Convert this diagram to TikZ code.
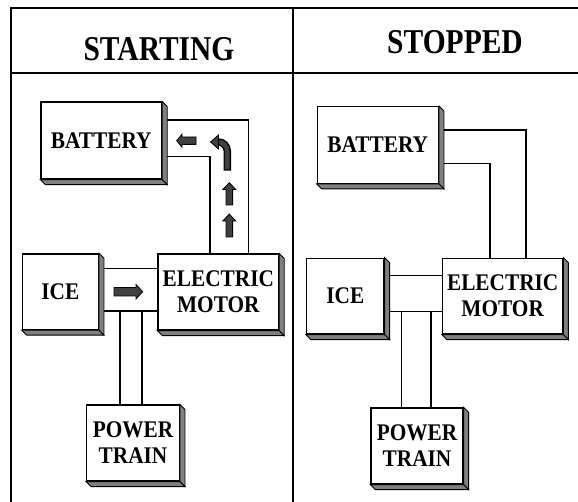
\documentclass[tikz,border=0pt]{standalone}
\usepackage{fontspec}
\setmainfont{Liberation Serif}
\definecolor{facegray}{RGB}{128,128,128}
\definecolor{arrowgray}{RGB}{64,64,64}
\tikzset{
  blk/.style={draw, fill=white, line width=1.3pt, inner sep=0pt, align=center,
    font=\fontsize{21.3}{26}\selectfont\bfseries},
  depthface/.style={draw, fill=facegray, line width=0.9pt, line join=miter},
  link/.style={line width=1.3pt},
  frame/.style={line width=1.5pt},
  flowarrow/.style={draw, fill=arrowgray, line width=0.8pt, line join=miter},
  headtxt/.style={font=\fontsize{29.5}{30}\selectfont\bfseries, inner sep=0pt, anchor=base},
}
% taller lettering, as in the drawing
\newcommand{\tall}[1]{\scalebox{1}[1.12]{#1}}
% gray side and bottom faces of a box
\newcommand{\boxdepth}[1]{%
  \filldraw[depthface] (#1.north east) -- ++(5,5) -- ([shift={(5,5)}]#1.south east) -- (#1.south east) -- cycle;
  \filldraw[depthface] (#1.south west) -- ++(5,5) -- ([shift={(5,5)}]#1.south east) -- (#1.south east) -- cycle;}
\begin{document}
\begin{tikzpicture}[x=1pt,y=-1pt]
  \useasboundingbox (0,0) rectangle (578,502);

  % table lines
  \draw[frame] (11,502) -- (11,8) -- (578,8);
  \draw[frame] (11,73) -- (578,73);
  \draw[frame] (293,8) -- (293,502);

  % Text Node
  \node[headtxt] (hStart) at (159,60.7) {\scalebox{1}[1.18]{STARTING}};
  % Text Node
  \node[headtxt] (hStop) at (455,53.3) {\scalebox{1}[1.18]{STOPPED}};

  %----- starting -----
  \node[blk, minimum width=120.5pt, minimum height=77pt] (batL) at (101.3,140.5) {\tall{BATTERY}};
  \node[blk, minimum width=120.5pt, minimum height=76pt] (motL) at (218.3,292) {\tall{ELECTRIC}\\\tall{MOTOR}};
  \node[blk, minimum width=76pt, minimum height=75.5pt] (iceL) at (60.3,291.7) {\tall{ICE}};
  \node[blk, minimum width=92.6pt, minimum height=76pt] (ptL) at (133,443) {\tall{POWER}\\\tall{TRAIN}};

  \draw[link] ([shift={(0,18.7)}]batL.north east) -| ([shift={(30,0)}]motL.north);
  \draw[link] ([shift={(0,55.3)}]batL.north east) -| ([shift={(-8.3,0)}]motL.north);
  \coordinate (iceLtop) at ([shift={(0,15.3)}]iceL.north east);
  \coordinate (iceLbot) at ([shift={(0,57.7)}]iceL.north east);
  \draw[link] (iceLtop) -- (iceLtop -| motL.west);
  \draw[link] (iceLbot) -- (iceLbot -| motL.west);
  \coordinate (ptLa) at ([shift={(-13,0)}]ptL.north);
  \coordinate (ptLb) at ([shift={(9,0)}]ptL.north);
  \draw[link] (ptLa |- iceLbot) -- (ptLa);
  \draw[link] (ptLb |- iceLbot) -- (ptLb);

  \boxdepth{batL}
  \boxdepth{motL}
  \boxdepth{iceL}
  \boxdepth{ptL}

  % flow arrows
  \filldraw[flowarrow] (114,287.5) -- (136,287.5) -- (136,284.5) -- (142.7,291.7) -- (136,299) -- (136,296) -- (114,296) -- cycle;
  \filldraw[flowarrow] (196,137) -- (182,137) -- (182,134.2) -- (176.7,140.7) -- (182,147.2) -- (182,144.4) -- (196,144.4) -- cycle;
  \filldraw[flowarrow] (226,205) -- (226,189.5) -- (222.8,189.5) -- (229.3,182.7) -- (235.8,189.5) -- (232.6,189.5) -- (232.6,205) -- cycle;
  \filldraw[flowarrow] (226,237) -- (226,221) -- (222.8,221) -- (229.3,214) -- (235.8,221) -- (232.6,221) -- (232.6,237) -- cycle;
  \draw[line width=7.4pt] (227.3,170.7) -- (227.3,151) arc[start angle=0, end angle=-90, radius=9];
  \draw[line width=4.8pt, arrowgray] (227.3,169.5) -- (227.3,151) arc[start angle=0, end angle=-90, radius=9];
  \filldraw[flowarrow] (218.5,135) -- (210.5,142) -- (218.5,149) -- cycle;

  %----- stopped -----
  \node[blk, minimum width=121pt, minimum height=76.6pt] (batR) at (377.8,145) {\tall{BATTERY}};
  \node[blk, minimum width=120pt, minimum height=75.7pt] (motR) at (502.7,296.2) {\tall{ELECTRIC}\\\tall{MOTOR}};
  \node[blk, minimum width=77.3pt, minimum height=75.7pt] (iceR) at (345.3,296.2) {\tall{ICE}};
  \node[blk, minimum width=92pt, minimum height=76pt] (ptR) at (417,446) {\tall{POWER}\\\tall{TRAIN}};

  \draw[link] ([shift={(0,24)}]batR.north east) -| ([shift={(23.3,0)}]motR.north);
  \draw[link] ([shift={(0,57.3)}]batR.north east) -| ([shift={(-12.7,0)}]motR.north);
  \coordinate (iceRtop) at ([shift={(0,17.7)}]iceR.north east);
  \coordinate (iceRbot) at ([shift={(0,54)}]iceR.north east);
  \draw[link] (iceRtop) -- (iceRtop -| motR.west);
  \draw[link] (iceRbot) -- (iceRbot -| motR.west);
  \coordinate (ptRa) at ([shift={(-15.5,0)}]ptR.north);
  \coordinate (ptRb) at ([shift={(14,0)}]ptR.north);
  \draw[link] (ptRa |- iceRbot) -- (ptRa);
  \draw[link] (ptRb |- iceRbot) -- (ptRb);

  \boxdepth{batR}
  \boxdepth{motR}
  \boxdepth{iceR}
  \boxdepth{ptR}
\end{tikzpicture}
\end{document}
